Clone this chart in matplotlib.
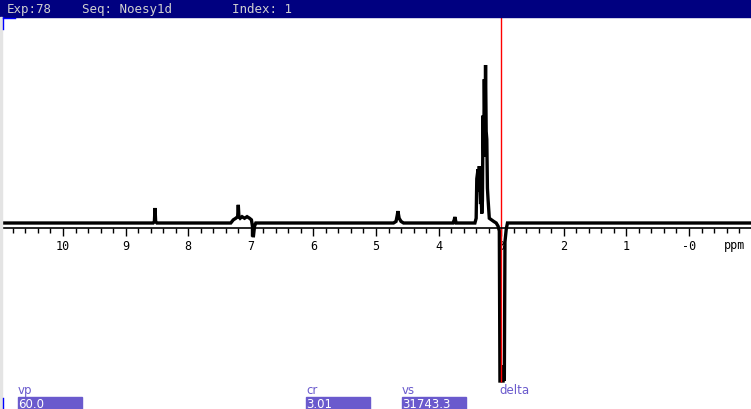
import matplotlib
matplotlib.use("Agg")
import matplotlib.pyplot as plt
from matplotlib.patches import Rectangle

# spectrum: ppm / intensity (baseline = 0, tallest peak = 100)
ppm = [10.96, 8.56, 8.54, 8.53, 8.52, 8.50, 7.32, 7.28, 7.24, 7.21, 7.20, 7.19,
       7.17, 7.14, 7.10, 7.06, 7.02, 6.99, 6.97, 6.96, 6.94, 6.92, 4.72, 4.68,
       4.66, 4.65, 4.63, 4.60, 4.56, 3.77, 3.75, 3.74, 3.72, 3.42, 3.40, 3.39,
       3.37, 3.36, 3.35, 3.33, 3.32, 3.31, 3.30, 3.29, 3.28, 3.27, 3.26, 3.25,
       3.24, 3.23, 3.22, 3.21, 3.19, 3.12, 3.08, 3.05, 3.03, 3.02, 2.98, 2.97,
       2.96, 2.95, 2.94, 2.92, 2.90, -0.99]
intensity = [0, 0, 1, 9.5, 1, 0, 0, 2, 3, 4, 11.5, 4,
             3, 4, 3, 4, 3, 2, -3, -9, -2, 0, 0, 1,
             5, 7.5, 3, 1, 0, 0, 2, 3.8, 0, 0, 3, 28,
             34, 20, 36, 12, 16, 6, 14, 68, 42, 91, 60, 100,
             58, 53, 22, 15, 3, 1, 0, -2, -5, -100, -100, -100,
             -90, -100, -12, -4, 0, 0]

major_ticks = [10, 9, 8, 7, 6, 5, 4, 3, 2, 1, 0]
major_labels = ["10", "9", "8", "7", "6", "5", "4", "3", "2", "1", "-0"]
minor_ticks = [round(10.8 - 0.2 * i, 1) for i in range(59)]

cursor_ppm = 3.0
header = [("Exp:78", 7), ("Seq: Noesy1d", 82), ("Index: 1", 232)]
fields = [("vp", "60.0", 18), ("cr", "3.01", 306), ("vs", "31743.3", 402)]

W, H = 751, 410
px_per_ppm = 62.6
ppm0_x = 689
base_y = 224
px_per_unit = 1.58

fig = plt.figure(figsize=(W / 100, H / 100), dpi=100)
ax = fig.add_axes([0, 0, 1, 1])
ax.set_xlim(ppm0_x / px_per_ppm, (ppm0_x - W) / px_per_ppm)
ax.set_ylim((base_y - H) / px_per_unit, base_y / px_per_unit)

ax.plot(ppm, intensity, color="black", lw=2.4, solid_joinstyle="miter")
ax.vlines(cursor_ppm, -100.5, (base_y - 18) / px_per_unit, color="red", lw=1)

# ppm axis
for s in ["top", "left", "right"]:
    ax.spines[s].set_visible(False)
ax.spines["bottom"].set_position(("data", -3.2))
ax.spines["bottom"].set_bounds(10.96, -0.99)
ax.spines["bottom"].set_linewidth(1.2)
ax.set_yticks([])
ax.set_xticks(major_ticks)
ax.set_xticklabels(major_labels, family="DejaVu Sans Mono", fontsize=8.5)
ax.set_xticks(minor_ticks, minor=True)
ax.tick_params(axis="x", which="major", length=6, width=1, pad=2, direction="out")
ax.tick_params(axis="x", which="minor", length=3.5, width=1, direction="out")
ax.text(-0.73, (base_y - 246) / px_per_unit, "ppm", ha="center", va="center",
        family="DejaVu Sans Mono", fontsize=8.5)

# header bar
fig.patches.append(Rectangle((0, 1 - 18 / H), 1, 18 / H, transform=fig.transFigure,
                             color="#000080", zorder=0))
for txt, x in header:
    fig.text(x / W, 1 - 9.5 / H, txt, color="#d0d0d0", ha="left", va="center",
             family="DejaVu Sans Mono", fontsize=9)

# left strip and markers
fig.patches.append(Rectangle((0, 0), 2 / W, 1 - 18 / H, transform=fig.transFigure,
                             color="#e4e4e4", zorder=0))
fig.add_artist(plt.Line2D([2.5 / W, 2.5 / W], [1 - 18 / H, 1 - 30 / H], color="blue", lw=1))
fig.add_artist(plt.Line2D([2.5 / W, 15 / W], [1 - 18.5 / H, 1 - 18.5 / H], color="blue", lw=1))
fig.add_artist(plt.Line2D([2.5 / W, 2.5 / W], [1 / H, 11 / H], color="blue", lw=1))

# parameter fields
for name, value, x in fields:
    fig.text(x / W, 1 - 391 / H, name, color="#6a5acd", ha="left", va="center",
             family="DejaVu Sans", fontsize=8.5)
    fig.patches.append(Rectangle((x / W, 0), 64 / W, 12 / H, transform=fig.transFigure,
                                 color="#6a5acd", zorder=1))
    fig.text(x / W, 5.5 / H, value, color="white", ha="left", va="center",
             family="DejaVu Sans", fontsize=8.5, zorder=2)
fig.text(499 / W, 1 - 391 / H, "delta", color="#6a5acd", ha="left", va="center",
         family="DejaVu Sans", fontsize=8.5)

fig.savefig("out.png", dpi=100)
